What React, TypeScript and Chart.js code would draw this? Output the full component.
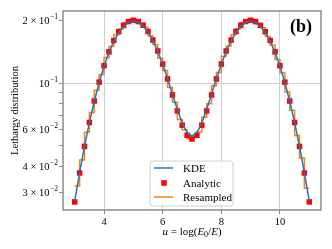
import React, { useEffect, useRef } from 'react';
import { Chart, registerables } from 'chart.js';

Chart.register(...registerables);

// u = log(E0/E) grid (analytic points and resampled bin edges)
const U = [
  3, 3.167, 3.333, 3.5, 3.667, 3.833, 4, 4.167, 4.333, 4.5, 4.667, 4.833, 5,
  5.167, 5.333, 5.5, 5.667, 5.833, 6, 6.167, 6.333, 6.5, 6.667, 6.833, 7,
  7.167, 7.333, 7.5, 7.667, 7.833, 8, 8.167, 8.333, 8.5, 8.667, 8.833, 9,
  9.167, 9.333, 9.5, 9.667, 9.833, 10, 10.167, 10.333, 10.5, 10.667, 10.833, 11,
];

const ANALYTIC = [
  0.027, 0.03716, 0.04974, 0.06476, 0.08201, 0.101, 0.12099, 0.14096, 0.15973,
  0.17605, 0.18871, 0.19675, 0.19954, 0.19685, 0.18893, 0.17647, 0.16049,
  0.14229, 0.12321, 0.1046, 0.08771, 0.07352, 0.06285, 0.05623, 0.05399,
  0.05623, 0.06285, 0.07352, 0.08771, 0.1046, 0.12321, 0.14229, 0.16049,
  0.17647, 0.18893, 0.19685, 0.19954, 0.19675, 0.18871, 0.17605, 0.15973,
  0.14096, 0.12099, 0.101, 0.08201, 0.06476, 0.04974, 0.03716, 0.027,
];

const KDE = [
  0.0272, 0.0373, 0.0498, 0.0647, 0.0818, 0.1006, 0.1203, 0.1399, 0.1583,
  0.1742, 0.1865, 0.1943, 0.197, 0.1945, 0.187, 0.175, 0.1594, 0.1417, 0.123,
  0.1048, 0.0884, 0.0747, 0.0643, 0.0579, 0.0558, 0.0579, 0.0643, 0.0747,
  0.0884, 0.1048, 0.123, 0.1417, 0.1594, 0.175, 0.187, 0.1945, 0.197, 0.1943,
  0.1865, 0.1742, 0.1583, 0.1399, 0.1203, 0.1006, 0.0818, 0.0647, 0.0498,
  0.0373, 0.0272,
];

// histogram bin heights (bins between consecutive U values)
const RESAMPLED = [
  0.0322, 0.0428, 0.0581, 0.0722, 0.0924, 0.1098, 0.1326, 0.1494, 0.1701,
  0.1815, 0.1948, 0.1979, 0.1995, 0.1927, 0.1846, 0.1676, 0.1528, 0.1314,
  0.1149, 0.0951, 0.0809, 0.0669, 0.0597, 0.0541, 0.0551, 0.0583, 0.0686,
  0.0795, 0.0969, 0.1124, 0.1341, 0.1502, 0.1702, 0.1819, 0.1946, 0.1981,
  0.1993, 0.1921, 0.1838, 0.1669, 0.1519, 0.1297, 0.1121, 0.0905, 0.0741,
  0.0561, 0.0438, 0.0314,
];

const X_TICKS = [4, 6, 8, 10];
const Y_TICKS = [0.03, 0.04, 0.05, 0.06, 0.07, 0.08, 0.09, 0.1, 0.2];
const Y_LABELS: [number, string, string][] = [
  [0.2, '2 × 10', '−1'],
  [0.1, '10', '−1'],
  [0.06, '6 × 10', '−2'],
  [0.04, '4 × 10', '−2'],
  [0.03, '3 × 10', '−2'],
];
const LEGEND_LABELS = ['KDE', 'Analytic', 'Resampled'];
const PANEL_LABEL = '(b)';
const Y_TITLE = 'Lethargy distribution';

const BLUE = '#1f77b4';
const ORANGE = '#ff7f0e';
const RED = '#ff0000';
const SERIF = '"Liberation Serif", "DejaVu Serif", serif';

const decor = {
  id: 'decor',
  afterDraw(chart: any) {
    const { ctx, chartArea: a, scales } = chart;
    ctx.save();
    // frame
    ctx.strokeStyle = '#8c8c8c';
    ctx.lineWidth = 1.5;
    ctx.strokeRect(a.left, a.top, a.right - a.left, a.bottom - a.top);

    // y tick labels with superscripts
    ctx.fillStyle = '#000';
    ctx.textBaseline = 'middle';
    ctx.textAlign = 'left';
    const ys = scales.y;
    for (const [v, base, exp] of Y_LABELS) {
      const py = ys.getPixelForValue(v);
      ctx.font = `10.5px ${SERIF}`;
      const bw = ctx.measureText(base).width;
      ctx.font = `7.5px ${SERIF}`;
      const ew = ctx.measureText(exp).width;
      const right = a.left - 5;
      ctx.font = `10.5px ${SERIF}`;
      ctx.fillText(base, right - ew - bw - 0.5, py + 1);
      ctx.font = `7.5px ${SERIF}`;
      ctx.fillText(exp, right - ew, py - 3);
    }

    // y title
    ctx.save();
    ctx.translate(15, (a.top + a.bottom) / 2);
    ctx.rotate(-Math.PI / 2);
    ctx.textAlign = 'center';
    ctx.font = `10.5px ${SERIF}`;
    ctx.fillText(Y_TITLE, 0, 0);
    ctx.restore();

    // x title: u = log(E0/E)
    const pieces: { t: string; it?: boolean; sub?: boolean }[] = [
      { t: 'u', it: true },
      { t: ' = log(' },
      { t: 'E', it: true },
      { t: '0', sub: true },
      { t: '/' },
      { t: 'E', it: true },
      { t: ')' },
    ];
    const fontOf = (p: any) =>
      p.sub ? `8px ${SERIF}` : `${p.it ? 'italic ' : ''}11px ${SERIF}`;
    let total = 0;
    for (const p of pieces) {
      ctx.font = fontOf(p);
      total += ctx.measureText(p.t).width;
    }
    let x = (a.left + a.right) / 2 - total / 2;
    const ty = 232;
    ctx.textAlign = 'left';
    for (const p of pieces) {
      ctx.font = fontOf(p);
      ctx.fillText(p.t, x, p.sub ? ty + 3 : ty);
      x += ctx.measureText(p.t).width;
    }

    // panel label
    ctx.font = `bold 18px ${SERIF}`;
    ctx.textAlign = 'center';
    ctx.fillText(PANEL_LABEL, 301, 27);

    // legend
    const lx = 150, ly = 161, lw = 83, lh = 45;
    ctx.beginPath();
    if (ctx.roundRect) ctx.roundRect(lx, ly, lw, lh, 3);
    else ctx.rect(lx, ly, lw, lh);
    ctx.fillStyle = 'rgba(255,255,255,0.85)';
    ctx.fill();
    ctx.strokeStyle = '#d0d0d0';
    ctx.lineWidth = 1;
    ctx.stroke();
    const rows = [168, 183, 197];
    ctx.font = `11px ${SERIF}`;
    ctx.textAlign = 'left';
    LEGEND_LABELS.forEach((lab, i) => {
      const ry = rows[i];
      if (i === 1) {
        ctx.fillStyle = RED;
        ctx.fillRect(164 - 2.75, ry - 2.75, 5.5, 5.5);
      } else {
        ctx.strokeStyle = i === 0 ? BLUE : ORANGE;
        ctx.lineWidth = 1.5;
        ctx.beginPath();
        ctx.moveTo(154, ry);
        ctx.lineTo(173, ry);
        ctx.stroke();
      }
      ctx.fillStyle = '#000';
      ctx.fillText(lab, 183, ry + 1);
    });
    ctx.restore();
  },
};

export default function App() {
  const ref = useRef<HTMLCanvasElement | null>(null);
  useEffect(() => {
    document.body.style.margin = '0';
    const canvas = ref.current;
    if (!canvas) return;
    const resampledData = RESAMPLED.map((v, k) => ({ x: U[k], y: v }));
    resampledData.push({ x: U[U.length - 1], y: RESAMPLED[RESAMPLED.length - 1] });
    const chart = new Chart(canvas, {
      type: 'line',
      data: {
        datasets: [
          {
            label: LEGEND_LABELS[0],
            data: U.map((u, i) => ({ x: u, y: KDE[i] })),
            borderColor: BLUE,
            borderWidth: 1.5,
            pointRadius: 0,
            fill: false,
            tension: 0,
          },
          {
            label: LEGEND_LABELS[1],
            data: U.map((u, i) => ({ x: u, y: ANALYTIC[i] })),
            showLine: false,
            pointStyle: 'rect',
            pointRadius: 3.9,
            backgroundColor: RED,
            borderColor: RED,
            borderWidth: 0,
          },
          {
            label: LEGEND_LABELS[2],
            data: resampledData,
            stepped: 'before',
            borderColor: ORANGE,
            borderWidth: 1.5,
            pointRadius: 0,
            fill: false,
          },
        ],
      } as any,
      options: {
        responsive: false,
        animation: false,
        devicePixelRatio: 1,
        layout: { padding: { top: 11, right: 11, left: 0, bottom: 0 } },
        plugins: { legend: { display: false }, tooltip: { enabled: false } },
        scales: {
          x: {
            type: 'linear',
            min: 2.6,
            max: 11.4,
            afterBuildTicks: (s: any) => {
              s.ticks = X_TICKS.map((v) => ({ value: v }));
            },
            afterFit: (s: any) => {
              s.height = 39;
            },
            grid: { color: '#cfcfcf', lineWidth: 1, tickColor: '#8c8c8c', tickLength: 4 },
            border: { display: false },
            ticks: {
              font: { family: SERIF, size: 10.5 },
              color: '#000',
              padding: 2,
              autoSkip: false,
              maxRotation: 0,
            },
          },
          y: {
            type: 'logarithmic',
            min: 0.0247,
            max: 0.221,
            afterBuildTicks: (s: any) => {
              s.ticks = Y_TICKS.map((v) => ({ value: v }));
            },
            afterFit: (s: any) => {
              s.width = 63;
            },
            grid: {
              color: (c: any) =>
                c.tick && Math.abs(c.tick.value - 0.1) < 1e-9 ? '#cfcfcf' : 'rgba(0,0,0,0)',
              lineWidth: 1,
              tickColor: '#8c8c8c',
              tickLength: 4,
            },
            border: { display: false },
            ticks: { callback: () => '', autoSkip: false },
          },
        },
      } as any,
      plugins: [decor],
    });
    return () => chart.destroy();
  }, []);
  return (
    <canvas
      ref={ref}
      width={332}
      height={249}
      style={{ display: 'block', width: 332, height: 249 }}
    />
  );
}
